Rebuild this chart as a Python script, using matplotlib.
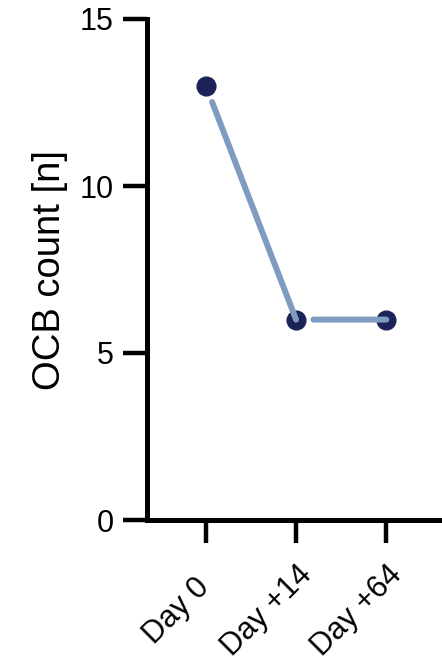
import matplotlib
matplotlib.use("Agg")
import matplotlib.pyplot as plt
import matplotlib.transforms as mtransforms

days = ["Day 0", "Day +14", "Day +64"]
ocb = [13, 6, 6]
yticks = [0, 5, 10, 15]

line_color = "#7f9bc0"
dot_color = "#1c2358"

plt.rcParams['font.family'] = ['Liberation Sans', 'DejaVu Sans']

fig = plt.figure(figsize=(4.42, 6.66), dpi=100)
ax = fig.add_axes([147 / 442, 1 - 520 / 666, 1 - 147 / 442, (520 - 19) / 666])

xs = list(range(len(days)))
ax.plot(xs, ocb, 'o', color=dot_color, markersize=13.5, zorder=2, clip_on=False)
for i in range(len(xs) - 1):
    ax.annotate('', xy=(xs[i + 1], ocb[i + 1]), xytext=(xs[i], ocb[i]),
                arrowprops=dict(arrowstyle='-', color=line_color, lw=4.3,
                                shrinkA=12.5, shrinkB=0),
                zorder=3)

ax.set_xlim(-0.652, 2.617)
ax.set_ylim(0, 15)
ax.set_yticks(yticks)
ax.set_xticks(xs)
ax.set_xticklabels(days, rotation=45, ha='center', va='center',
                   rotation_mode='anchor', fontsize=22)
ax.tick_params(axis='y', labelsize=22, length=17, width=3.2, pad=7)
ax.tick_params(axis='x', length=16.5, width=3.2, pad=49)
ax.set_ylabel("OCB count [n]", fontsize=27.5, labelpad=8)

# rotated day labels sit left of their ticks
shift = mtransforms.ScaledTranslation(-21 / 72, 0, fig.dpi_scale_trans)
for lab in ax.get_xticklabels():
    lab.set_transform(lab.get_transform() + shift)

for s in ['top', 'right']:
    ax.spines[s].set_visible(False)
for s in ['left', 'bottom']:
    ax.spines[s].set_linewidth(3.6)

fig.savefig("out.png", dpi=100)
